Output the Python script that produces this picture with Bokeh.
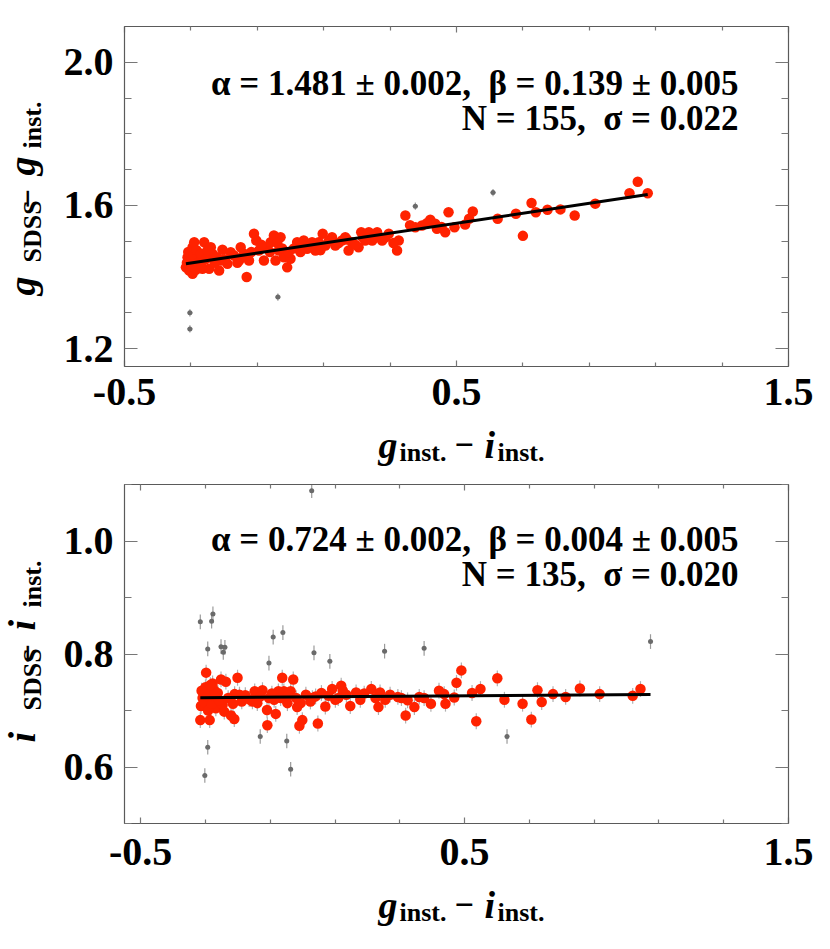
import numpy as np
from bokeh.plotting import figure
from bokeh.layouts import column, row
from bokeh.models import FixedTicker, LinearAxis, Label, Range1d, CustomJSTickFormatter
from bokeh.embed import file_html
from bokeh.resources import INLINE

# ---------------- data: top panel (g band) ----------------
TOP_FIT_X = [-0.315, -0.310, -0.295, -0.290, -0.305, -0.295, -0.280, -0.275, -0.265, -0.260,
             -0.245, -0.240, -0.235, -0.215, -0.210, -0.205, -0.190, -0.180, -0.155, -0.150,
             -0.140, -0.132, -0.125, -0.110, -0.103, -0.095, -0.080, -0.070, -0.060, -0.050,
             -0.045, -0.035, -0.030, -0.020, -0.010, 0.000, 0.020, 0.030, 0.040, 0.050,
             0.065, 0.075, 0.085, 0.097, 0.105, 0.125, 0.135, 0.155, 0.165, 0.175,
             0.185, 0.205, 0.213, 0.225, 0.236, 0.246, 0.261, 0.276, 0.296, 0.321,
             0.326, 0.346, 0.376, 0.396, 0.421, 0.436, 0.441, 0.466,
             0.476, 0.494, 0.526, 0.538, 0.549, 0.624, 0.679, 0.700, 0.726, 0.739,
             0.774, 0.813, 0.856, 0.918, 1.021, 1.046, 1.076,
             -0.312, -0.308, -0.300, -0.298, -0.292, -0.285, -0.283, -0.278, -0.270, -0.268,
             -0.255, -0.250, -0.228, -0.222, -0.198, -0.170, -0.160, -0.118, -0.088, -0.062,
             -0.040, -0.025, -0.005, 0.010, 0.035, 0.058, 0.090, 0.115, 0.145, 0.170,
             0.195, 0.218, 0.255, 0.285, 0.310, 0.360, 0.410, 0.455]
TOP_FIT_Y = [1.427, 1.455, 1.483, 1.497, 1.418, 1.409, 1.432, 1.455, 1.423, 1.497,
             1.423, 1.483, 1.465, 1.418, 1.446, 1.476, 1.437, 1.469, 1.446, 1.483,
             1.465, 1.400, 1.446, 1.521, 1.502, 1.474, 1.446, 1.483, 1.497, 1.516,
             1.446, 1.474, 1.511, 1.455, 1.427, 1.451, 1.497, 1.470, 1.502, 1.479,
             1.497, 1.474, 1.497, 1.521, 1.488, 1.511, 1.488, 1.502, 1.511, 1.474,
             1.497, 1.483, 1.525, 1.502, 1.525, 1.502, 1.525, 1.502, 1.521, 1.474,
             1.502, 1.572, 1.539, 1.544, 1.560, 1.549, 1.535, 1.525,
             1.581, 1.539, 1.547, 1.563, 1.583, 1.563, 1.577, 1.515, 1.607, 1.581,
             1.588, 1.589, 1.572, 1.605, 1.634, 1.666, 1.634,
             1.440, 1.470, 1.445, 1.430, 1.460, 1.420, 1.475, 1.440, 1.465, 1.430,
             1.450, 1.475, 1.440, 1.455, 1.450, 1.460, 1.440, 1.470, 1.490, 1.470,
             1.495, 1.480, 1.470, 1.480, 1.490, 1.485, 1.475, 1.500, 1.495, 1.505,
             1.490, 1.510, 1.510, 1.510, 1.495, 1.545, 1.550, 1.540]
TOP_OUT_X = [-0.303, -0.303, -0.038, 0.376, 0.610]
TOP_OUT_Y = [1.300, 1.255, 1.344, 1.598, 1.636]
TOP_ERR_FIT = 0.010
TOP_ERR_OUT_Y = 0.010
TOP_ERR_OUT_X = 0.008
TOP_ALPHA, TOP_BETA = 1.481, 0.139
TOP_TEXT = ["\u03b1 = 1.481 \u00b1 0.002, \u00a0\u03b2 = 0.139 \u00b1 0.005",
            "N = 155, \u00a0\u03c3 = 0.022"]
TOP_Y_TICKS = [1.2, 1.6, 2.0]
TOP_Y_LABELS = ["1.2", "1.6", "2.0"]
TOP_Y_MINOR = [1.3, 1.4, 1.5, 1.7, 1.8, 1.9]

# ---------------- data: bottom panel (i band) ----------------
BOT_FIT_X = [-0.316, -0.287, -0.298, -0.314, -0.309, -0.300, -0.288, -0.283, -0.278, -0.273,
             -0.268, -0.262, -0.252, -0.247, -0.242, -0.237, -0.221, -0.211, -0.210, -0.201,
             -0.188, -0.177, -0.155, -0.148, -0.140, -0.124, -0.110, -0.109, -0.104, -0.088,
             -0.083, -0.075, -0.063, -0.058, -0.047, -0.037, -0.029, -0.017, -0.010, -0.006,
             -0.001, 0.024, 0.040, 0.047, 0.058, 0.070, 0.091, 0.101, 0.119, 0.124,
             0.147, 0.165, 0.178, 0.212, 0.234, 0.239, 0.255, 0.294, 0.318, 0.324,
             0.345, 0.375, 0.396, 0.421, 0.437, 0.441, 0.468, 0.475, 0.490, 0.523,
             0.536, 0.549,
             0.601, 0.623, 0.679, 0.706, 0.725, 0.738, 0.773, 0.812, 0.856, 0.917, 1.019, 1.043,
             -0.312, -0.305, -0.295, -0.292, -0.285, -0.280, -0.270, -0.258, -0.230, -0.215,
             -0.195, -0.165, -0.130, -0.095, -0.068, -0.045, -0.020, 0.010, 0.030, 0.080,
             0.110, 0.135, 0.190, 0.225, 0.270, 0.305, 0.360]
BOT_FIT_Y = [0.683, 0.683, 0.767, 0.708, 0.722, 0.741, 0.731, 0.719, 0.748, 0.736,
             0.704, 0.731, 0.755, 0.710, 0.698, 0.751, 0.691, 0.685, 0.729, 0.758,
             0.716, 0.727, 0.716, 0.734, 0.713, 0.736, 0.701, 0.674, 0.722, 0.719,
             0.694, 0.734, 0.758, 0.734, 0.713, 0.734, 0.755, 0.706, 0.673, 0.713,
             0.683, 0.716, 0.725, 0.677, 0.731, 0.707, 0.738, 0.719, 0.744, 0.735,
             0.708, 0.732, 0.719, 0.738, 0.706, 0.732, 0.719, 0.724, 0.691, 0.718,
             0.706, 0.722, 0.712, 0.735, 0.729, 0.712, 0.723, 0.749, 0.771, 0.731,
             0.681, 0.738,
             0.757, 0.719, 0.712, 0.684, 0.736, 0.715, 0.729, 0.724, 0.739, 0.729, 0.726, 0.738,
             0.735, 0.715, 0.725, 0.700, 0.745, 0.712, 0.725, 0.718, 0.722, 0.712,
             0.728, 0.720, 0.725, 0.730, 0.722, 0.726, 0.722, 0.728, 0.722, 0.726,
             0.722, 0.728, 0.730, 0.722, 0.728, 0.722, 0.724]
BOT_OUT_X = [-0.316, -0.281, -0.277, -0.293, -0.252, -0.240, -0.245, -0.091, -0.061, -0.104,
             0.035, 0.084, 0.253, 0.375, -0.293, -0.302, -0.131, -0.049, -0.037, 0.028,
             0.631, 1.074]
BOT_OUT_Y = [0.857, 0.858, 0.871, 0.809, 0.813, 0.812, 0.803, 0.830, 0.838, 0.784,
             0.802, 0.787, 0.805, 0.810, 0.635, 0.585, 0.654, 0.646, 0.596, 1.089,
             0.654, 0.822]
BOT_ERR_FIT = 0.014
BOT_ERR_OUT_Y = 0.013
BOT_ERR_OUT_X = 0.007
BOT_ALPHA, BOT_BETA = 0.724, 0.004
BOT_TEXT = ["\u03b1 = 0.724 \u00b1 0.002, \u00a0\u03b2 = 0.004 \u00b1 0.005",
            "N = 135, \u00a0\u03c3 = 0.020"]
BOT_Y_TICKS = [0.6, 0.8, 1.0]
BOT_Y_LABELS = ["0.6", "0.8", "1.0"]
BOT_Y_MINOR = [0.5, 0.7, 0.9, 1.1]

X_TICKS = [-0.5, 0.5, 1.5]
X_LABELS = ["-0.5", "0.5", "1.5"]
X_MINOR = [-0.3, -0.1, 0.1, 0.3, 0.7, 0.9, 1.1, 1.3]

FONT = "Liberation Serif"
RED = "#ff2200"
GRAY = "#6a6a6a"
AXC = "#5a5a5a"
LW = 50          # width of the y-label strip
PW = 780         # width of each plot
SH = 13          # baseline correction of rendered labels


def style_axis(ax, ticks, minor, labels, maj_in, min_in, show, standoff=10):
    ax.ticker = FixedTicker(ticks=ticks, minor_ticks=minor)
    ax.major_tick_in = maj_in
    ax.major_tick_out = 0
    ax.minor_tick_in = min_in
    ax.minor_tick_out = 0
    ax.axis_line_color = AXC
    ax.axis_line_width = 1.2
    ax.major_tick_line_color = "#777777"
    ax.minor_tick_line_color = "#777777"
    ax.major_tick_line_width = 1.2
    ax.minor_tick_line_width = 1.2
    if show:
        ax.major_label_overrides = {t: l for t, l in zip(ticks, labels)}
        ax.major_label_text_font = FONT
        ax.major_label_text_font_style = "bold"
        ax.major_label_text_font_size = "40px"
        ax.major_label_text_color = "black"
        ax.major_label_standoff = standoff
    else:
        ax.formatter = CustomJSTickFormatter(code="return ''")
        ax.major_label_text_font_size = "0px"
        ax.major_label_standoff = 0


def txt(p, x, y, s, size, style="bold", angle=0, align="left"):
    p.add_layout(Label(x=x, y=y, x_units="canvas", y_units="canvas", text=s,
                       text_font=FONT, text_font_size=f"{size}px", text_font_style=style,
                       angle=angle, angle_units="deg", text_align=align,
                       text_baseline="alphabetic", text_color="black"))


def blank(w, h):
    f = figure(width=w, height=h, title=None, x_axis_location=None, y_axis_location=None,
               min_border=0, toolbar_location=None, outline_line_color=None,
               output_backend="svg", x_range=Range1d(0, 1), y_range=Range1d(0, 1),
               background_fill_color="white", border_fill_color="white")
    f.grid.visible = False
    return f


def panel(fx, fy, ox, oy, efit, eoy, eox, alpha, beta, texts, yr, xr, yt, yl, ym,
          height, btop, bbot, tx_base, xstandoff):
    p = figure(width=PW, height=height, output_backend="svg", toolbar_location=None,
               title=None, x_range=Range1d(*xr), y_range=Range1d(*yr),
               min_border_left=124 - LW, min_border_right=PW + LW - 788, min_border_top=btop,
               min_border_bottom=bbot, background_fill_color="white",
               border_fill_color="white", outline_line_color=AXC)
    p.grid.visible = False
    style_axis(p.xaxis[0], X_TICKS, X_MINOR, X_LABELS, 6, 4, True, xstandoff)
    style_axis(p.yaxis[0], yt, ym, yl, 13, 7, True, 11)
    top_ax = LinearAxis()
    style_axis(top_ax, X_TICKS, X_MINOR, X_LABELS, 6, 4, False)
    p.add_layout(top_ax, "above")
    right_ax = LinearAxis()
    style_axis(right_ax, yt, ym, yl, 13, 7, False)
    p.add_layout(right_ax, "right")

    fx = np.asarray(fx); fy = np.asarray(fy)
    ox = np.asarray(ox); oy = np.asarray(oy)
    p.segment(fx, fy - efit, fx, fy + efit, line_color="#b0b0b0", line_width=1.2)
    p.segment(ox, oy - eoy, ox, oy + eoy, line_color="#9a9a9a", line_width=1.2)
    p.segment(ox - eox, oy, ox + eox, oy, line_color="#9a9a9a", line_width=1.2)
    p.scatter(ox, oy, size=5, marker="circle", fill_color=GRAY, line_color=None)
    p.scatter(fx, fy, size=10.5, marker="circle", fill_color=RED, line_color=None)
    allx = np.concatenate([fx, ox])
    lx = np.array([allx.min(), allx.max()])
    p.line(lx, alpha + beta * lx, line_color="black", line_width=3)

    txt(p, 738 - LW, tx_base[0] - SH, texts[0], 35, align="right")
    txt(p, 738 - LW, tx_base[1] - SH, texts[1], 35, align="right")
    return p


def xlabel(h, mb, sb):
    mb -= SH
    sb -= SH
    f = blank(LW + PW, h)
    txt(f, 378, mb, "g", 38, "bold italic")
    txt(f, 399, sb, "inst.", 26)
    txt(f, 454, mb, "\u2212", 34)
    txt(f, 484, mb, "i", 38, "bold italic")
    txt(f, 497, sb, "inst.", 26)
    return f


def ylabel(h, pieces):
    f = blank(LW, h)
    for (x, y, s, size, style) in pieces:
        txt(f, x - SH, y, s, size, style, angle=90)
    return f


# top panel: page y 0..421, frame 26..366
top = panel(TOP_FIT_X, TOP_FIT_Y, TOP_OUT_X, TOP_OUT_Y, TOP_ERR_FIT, TOP_ERR_OUT_Y, TOP_ERR_OUT_X,
            TOP_ALPHA, TOP_BETA, TOP_TEXT, (1.15, 2.10), (-0.5, 1.5),
            TOP_Y_TICKS, TOP_Y_LABELS, TOP_Y_MINOR, 421, 26, 55, (96, 131), 12)
top_yl = ylabel(421, [(34, 295, "g", 38, "bold italic"), (45, 262, "SDSS", 26, "bold"),
                      (40, 208, "\u2212", 34, "bold"), (34, 175, "g", 38, "bold italic"),
                      (45, 148, "inst.", 26, "bold")])
top_xl = xlabel(53, 36, 44)          # page y 421..474

# bottom panel: page y 474..881, frame 484..823
bot = panel(BOT_FIT_X, BOT_FIT_Y, BOT_OUT_X, BOT_OUT_Y, BOT_ERR_FIT, BOT_ERR_OUT_Y, BOT_ERR_OUT_X,
            BOT_ALPHA, BOT_BETA, BOT_TEXT, (0.5, 1.1), (-0.55, 1.5),
            BOT_Y_TICKS, BOT_Y_LABELS, BOT_Y_MINOR, 407, 10, 58, (78, 113), 15)
bot_yl = ylabel(407, [(34, 268, "i", 38, "bold italic"), (45, 236, "SDSS", 26, "bold"),
                      (40, 189, "\u2212", 34, "bold"), (34, 156, "i", 38, "bold italic"),
                      (45, 133, "inst.", 26, "bold")])
bot_xl = xlabel(58, 36, 44)          # page y 881..939

layout = column(row(top_yl, top, spacing=0), top_xl,
                row(bot_yl, bot, spacing=0), bot_xl, spacing=0)
open("out.html", "w").write(file_html(layout, INLINE))
